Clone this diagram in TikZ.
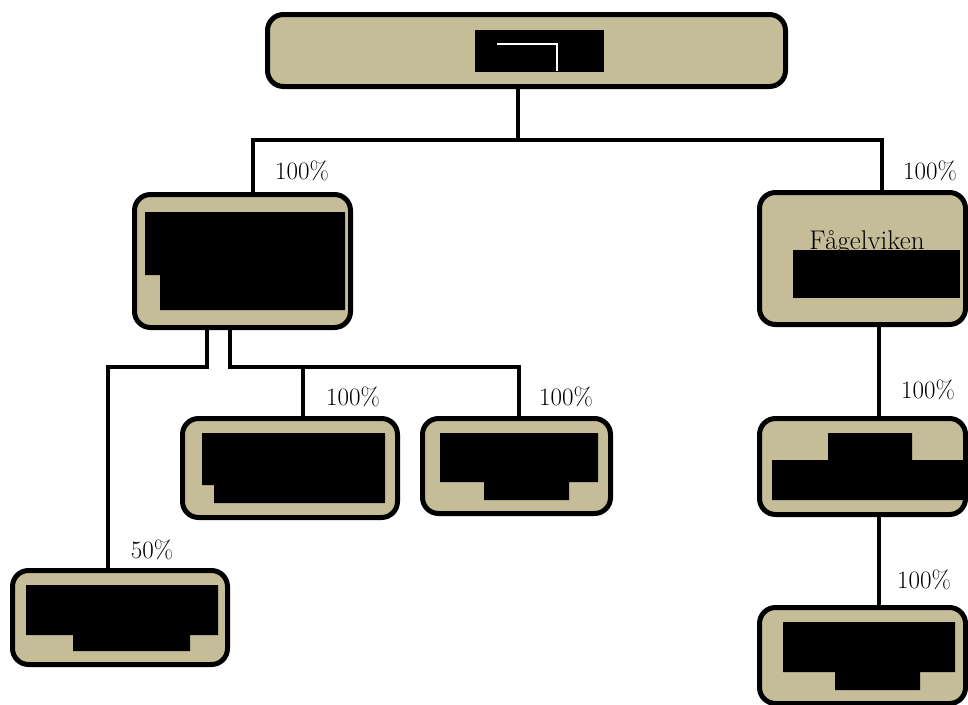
\documentclass[tikz,border=0pt]{standalone}
\usepackage{fontspec}
\definecolor{boxFill}{RGB}{196,189,151}
\begin{document}
\begin{tikzpicture}[x=1pt,y=-1pt,
  unit/.style={draw=black, line width=5pt, fill=boxFill, rounded corners=16pt, inner sep=0pt},
  link/.style={line width=3.5pt},
  share/.style={font=\fontsize{25}{29}\selectfont, inner sep=0pt},
  censor/.style={fill=black}]
  \useasboundingbox (0,0) rectangle (968,704);
  \clip (0,0) rectangle (968,704);
  %% Company boxes
  \node[unit, minimum width=518pt, minimum height=72pt] (parent) at (526.5,50.5) {};
  \node[unit, minimum width=216pt, minimum height=133pt] (holdA) at (242.5,261) {};
  \node[unit, minimum width=215pt, minimum height=99pt] (subB) at (290,468) {};
  \node[unit, minimum width=188pt, minimum height=95pt] (subC) at (516.5,466) {};
  \node[unit, minimum width=215pt, minimum height=94pt] (subD) at (120,617.5) {};
  \node[unit, minimum width=206pt, minimum height=132pt] (fagel) at (862.5,258.5) {};
  \node[unit, minimum width=206pt, minimum height=96pt] (subF) at (862.5,466.5) {};
  \node[unit, minimum width=206pt, minimum height=96pt] (subG) at (862.5,655.5) {};
  \node[font=\fontsize{27}{31}\selectfont, inner sep=0pt, anchor=base] (fagelName) at (867,249) {Fågelviken};
  %% Ownership lines
  \coordinate (bus) at (518,140);
  \coordinate (busL) at (253,140);
  \coordinate (busR) at (882,140);
  \draw[link] (parent.south -| bus) -- (bus);
  \draw[link] (busL |- holdA.north) -- (busL) -- (busR) -- (busR |- fagel.north);
  \coordinate (forkL) at (108,367);
  \coordinate (forkA) at (207,367);
  \coordinate (forkB) at (230,367);
  \coordinate (forkC) at (519,367);
  \coordinate (dropB) at (303,367);
  \draw[link] (holdA.south -| forkA) -- (forkA) -- (forkL) -- (subD.north -| forkL);
  \draw[link] (holdA.south -| forkB) -- (forkB) -- (forkC) -- (subC.north -| forkC);
  \draw[link] (dropB) -- (subB.north -| dropB);
  \coordinate (colR) at (879,400);
  \draw[link] (fagel.south -| colR) -- (subF.north -| colR);
  \draw[link] (subF.south -| colR) -- (subG.north -| colR);
  %% Shares
  \node[share] (shareA) at (302,171) {100\%};
  \node[share] (shareE) at (930,171) {100\%};
  \node[share] (shareB) at (353,397) {100\%};
  \node[share] (shareC) at (566,397) {100\%};
  \node[share] (shareD) at (152,550) {50\%};
  \node[share] (shareF) at (928,390) {100\%};
  \node[share] (shareG) at (924,580) {100\%};
  %% Blacked out names
  \fill[censor] (475,30) rectangle (604,72);
  \draw[white, line width=1.5pt] (497,44) -- (557,44) -- (557,71);
  \fill[censor] (145,212) -- (345,212) -- (345,310) -- (160,310) -- (160,275) -- (145,275) -- cycle;
  \fill[censor] (202,433) -- (385,433) -- (385,503) -- (214,503) -- (214,485) -- (202,485) -- cycle;
  \fill[censor] (440,433) -- (598,433) -- (598,482) -- (569,482) -- (569,500) -- (484,500) -- (484,482) -- (440,482) -- cycle;
  \fill[censor] (26,585) -- (218,585) -- (218,635) -- (190,635) -- (190,651) -- (73,651) -- (73,635) -- (26,635) -- cycle;
  \fill[censor] (793,250) rectangle (960,298);
  \fill[censor] (828,433) -- (912,433) -- (912,460) -- (965,460) -- (965,500) -- (772,500) -- (772,460) -- (828,460) -- cycle;
  \fill[censor] (783,622) -- (955,622) -- (955,672) -- (920,672) -- (920,690) -- (835,690) -- (835,672) -- (783,672) -- cycle;
\end{tikzpicture}
\end{document}
